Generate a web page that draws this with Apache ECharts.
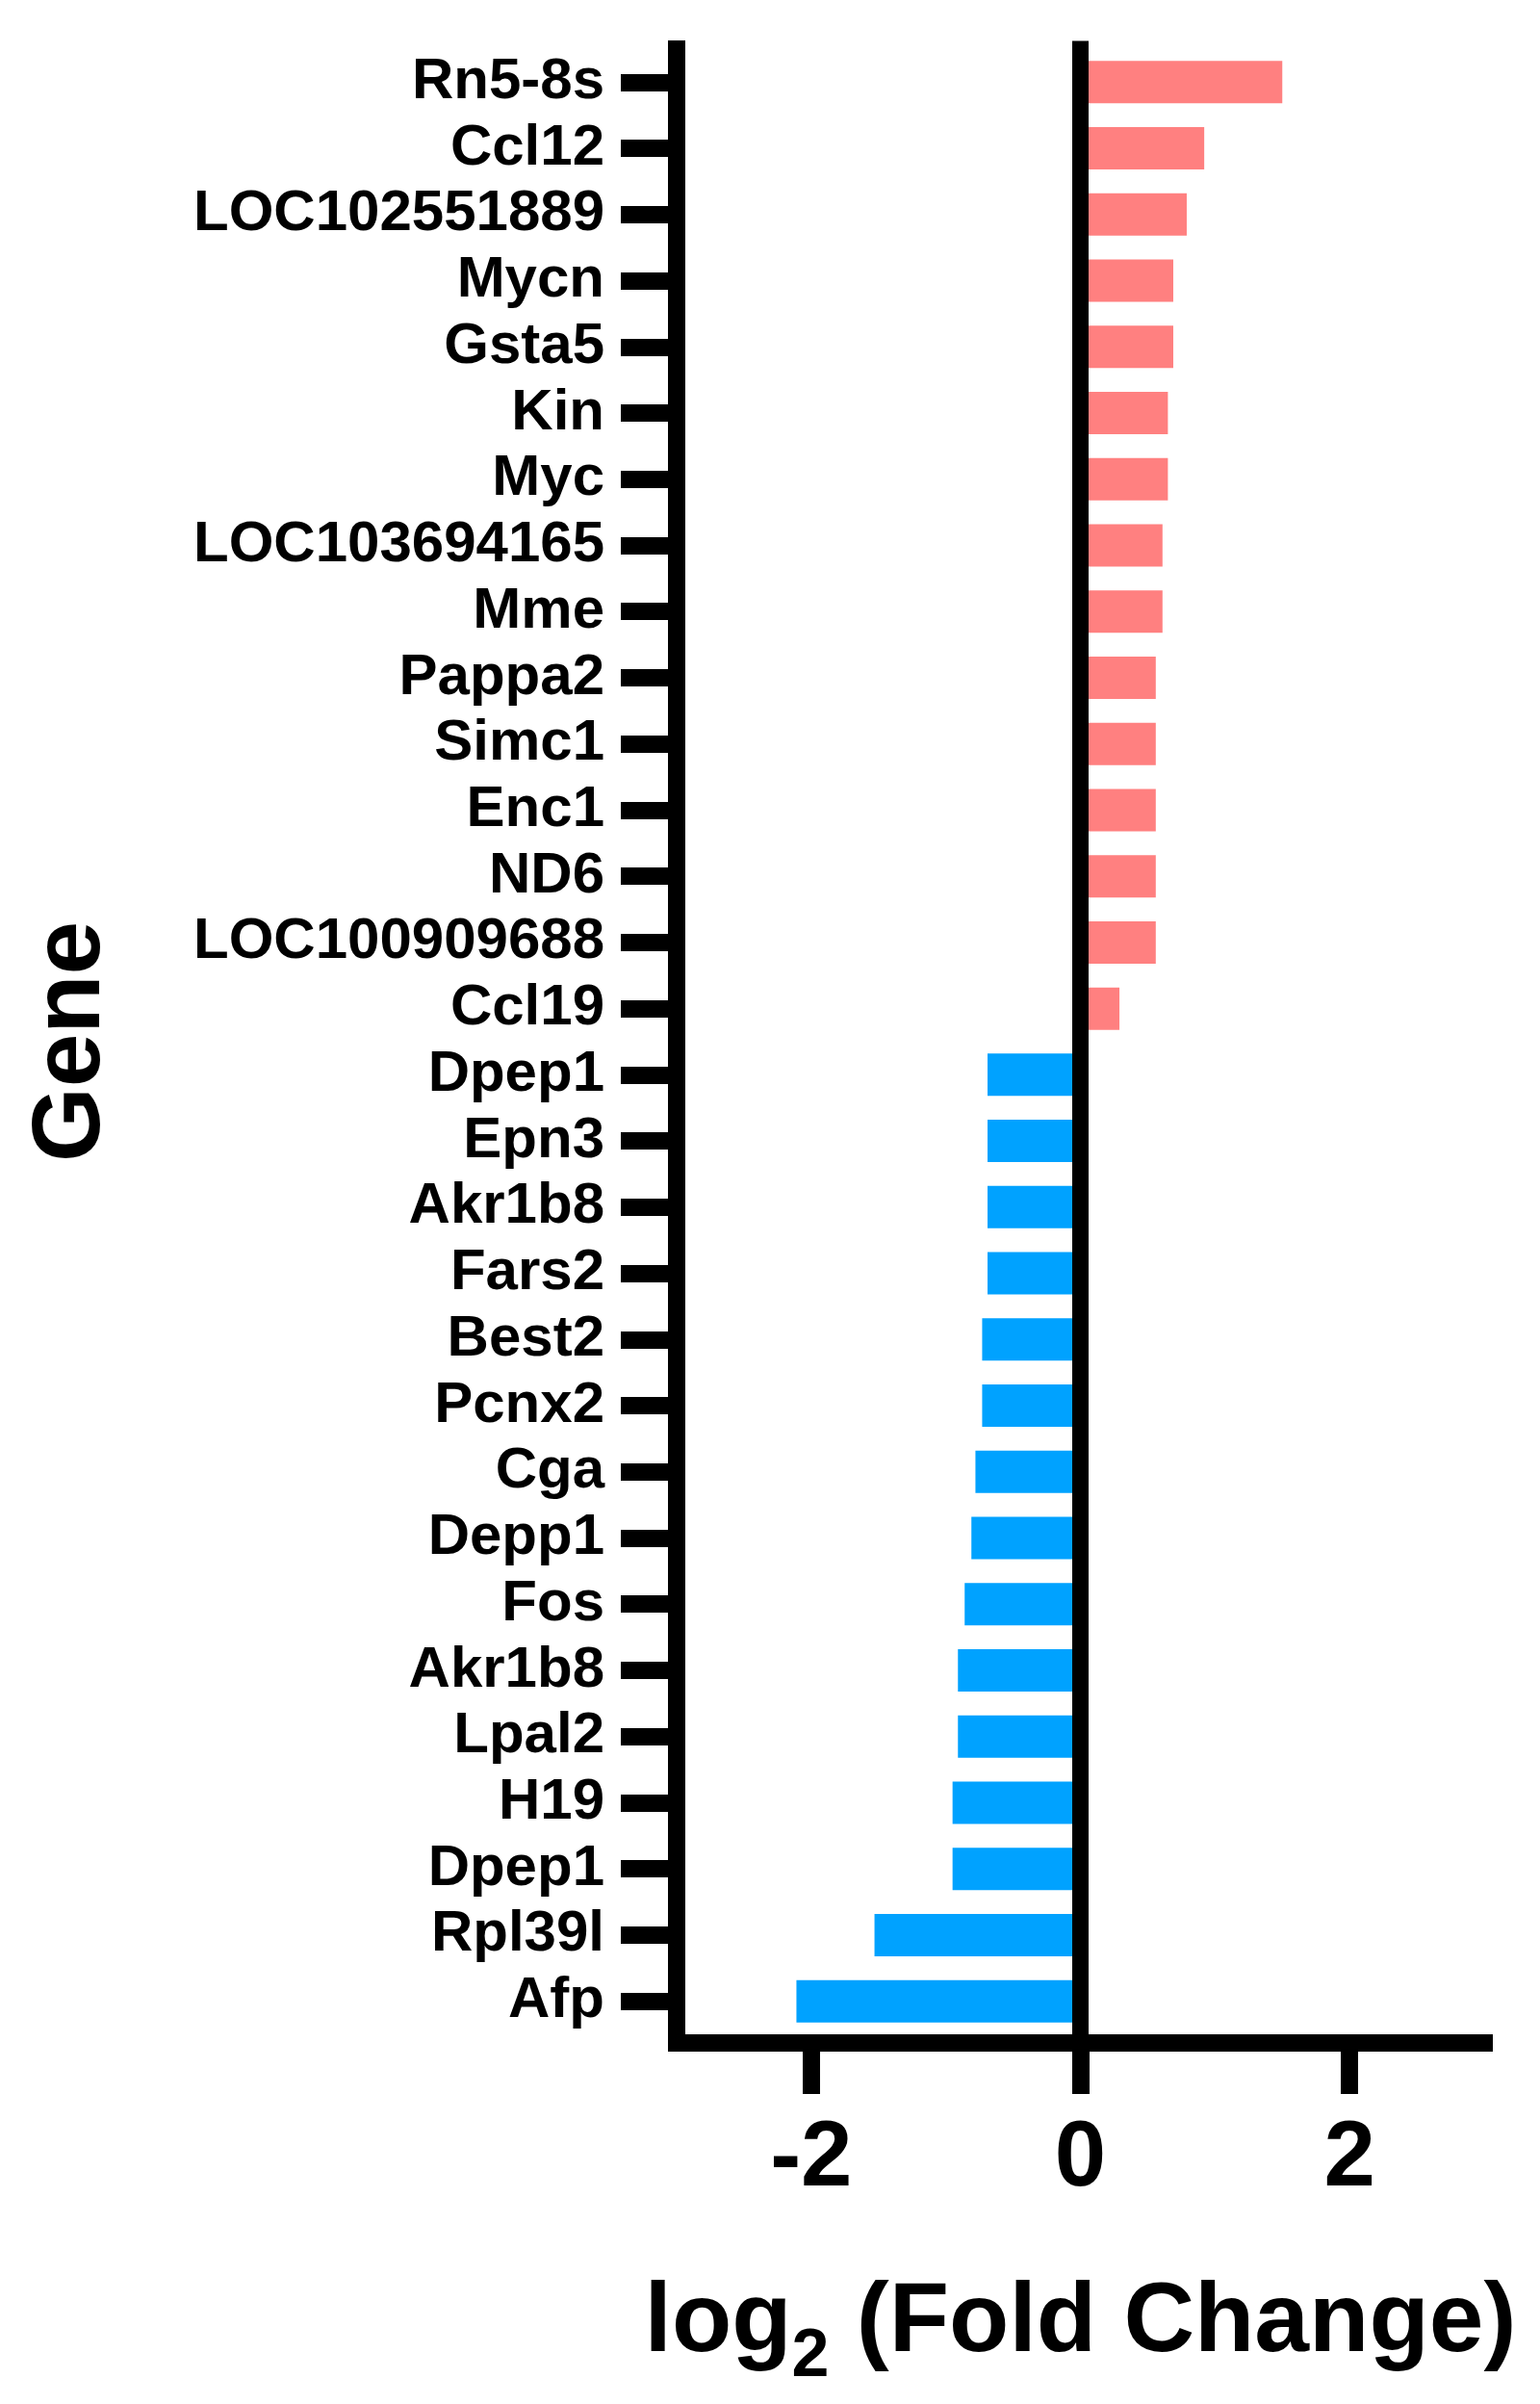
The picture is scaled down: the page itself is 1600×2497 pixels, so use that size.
<!DOCTYPE html>
<html lang="en">
<head>
  <meta charset="UTF-8">
  <title>Gene fold change</title>
  <style>
      html, body { margin: 0; padding: 0; background: #fff; }
      #chart { width: 1600px; height: 2497px; }
  </style>
</head>
<body>
<div id="chart"></div>

<script src="https://cdn.jsdelivr.net/npm/echarts@6/dist/echarts.min.js"></script>
<script>

  // genes, top to bottom
  const genes = ['Rn5-8s', 'Ccl12', 'LOC102551889', 'Mycn', 'Gsta5', 'Kin', 'Myc', 'LOC103694165', 'Mme',
    'Pappa2', 'Simc1', 'Enc1', 'ND6', 'LOC100909688', 'Ccl19',
    'Dpep1', 'Epn3', 'Akr1b8', 'Fars2', 'Best2', 'Pcnx2', 'Cga', 'Depp1', 'Fos', 'Akr1b8 ',
    'Lpal2', 'H19', 'Dpep1 ', 'Rpl39l', 'Afp'];

  // log2 fold change, same order (up first, then down)
  const upValues = [1.50, 0.92, 0.79, 0.69, 0.69, 0.65, 0.65, 0.61, 0.61, 0.56, 0.56, 0.56, 0.56, 0.56, 0.29];
  const downValues = [-0.69, -0.69, -0.69, -0.69, -0.73, -0.73, -0.78, -0.81, -0.86, -0.91, -0.91, -0.95, -0.95, -1.53, -2.11];

  const xTicks = [-2, 0, 2];

  const upColor = '#FF8080';
  const downColor = '#00A2FF';
  const font = 'Liberation Sans, Arial, sans-serif';

  const values = upValues.concat(downValues);
  const barData = values.map(function (v) {
    return { value: v, itemStyle: { color: v >= 0 ? upColor : downColor } };
  });

  const chart = echarts.init(document.getElementById('chart'));
  chart.setOption({
    animation: false,
    grid: {
      left: 703,
      right: 58,
      top: 51,
      bottom: 384
    },
    xAxis: {
      type: 'value',
      min: -3,
      max: 3,
      offset: 9,
      splitLine: { show: false },
      axisLine: { show: true, onZero: false, lineStyle: { color: '#000', width: 18, cap: 'square' } },
      axisTick: { show: true, customValues: xTicks, length: 53, lineStyle: { color: '#000', width: 18 } },
      axisLabel: {
        customValues: xTicks,
        color: '#000', fontFamily: font, fontWeight: 'bold', fontSize: 96, margin: 74
      },
      name: '{a|log}{s|2}{a| (Fold Change)}',
      nameLocation: 'middle',
      nameGap: 222,
      nameTextStyle: {
        rich: {
          a: { fontFamily: font, fontWeight: 'bold', fontSize: 102, lineHeight: 140, color: '#000' },
          s: { fontFamily: font, fontWeight: 'bold', fontSize: 70, lineHeight: 70, verticalAlign: 'bottom', color: '#000' }
        }
      }
    },
    yAxis: {
      type: 'category',
      inverse: true,
      data: genes,
      axisLine: { show: true, onZero: false, lineStyle: { color: '#000', width: 18, cap: 'square' } },
      axisTick: { show: true, alignWithLabel: true, length: 58, lineStyle: { color: '#000', width: 18 } },
      axisLabel: {
        interval: 0,
        color: '#000', fontFamily: font, fontWeight: 'bold', fontSize: 60, margin: 75,
        formatter: function (v) { return v.trim(); }
      },
      name: 'Gene',
      nameLocation: 'middle',
      nameRotate: 90,
      nameGap: 578,
      nameTextStyle: { color: '#000', fontFamily: font, fontWeight: 'bold', fontSize: 100 }
    },
    series: [
      {
        type: 'bar',
        data: barData,
        barWidth: 44,
        markLine: {
          silent: true,
          symbol: 'none',
          label: { show: false },
          lineStyle: { color: '#000', width: 17, type: 'solid', cap: 'square' },
          data: [{ xAxis: 0 }]
        }
      }
    ]
  });

</script>
</body>
</html>
